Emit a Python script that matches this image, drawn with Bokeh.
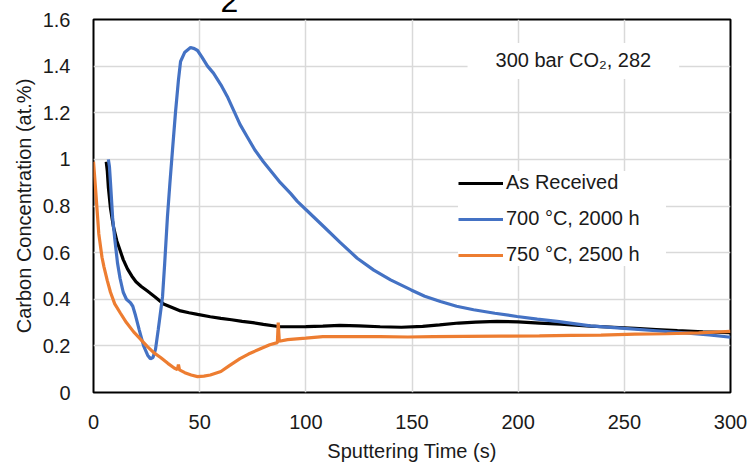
from bokeh.plotting import figure
from bokeh.models import (ColumnDataSource, Range1d, FixedTicker, Legend, LegendItem, Label)
from bokeh.embed import file_html
from bokeh.resources import INLINE

# ---------------- data ----------------
x_ticks = [0, 50, 100, 150, 200, 250, 300]
x_tick_labels = ["0", "50", "100", "150", "200", "250", "300"]
y_ticks = [0, 0.2, 0.4, 0.6, 0.8, 1.0, 1.2, 1.4, 1.6]
y_tick_labels = ["0", "0.2", "0.4", "0.6", "0.8", "1", "1.2", "1.4", "1.6"]

series_names = ["As Received", "700 °C, 2000 h", "750 °C, 2500 h"]

black_t = [6, 6.5, 7, 8, 9.4, 11, 12.5, 14, 16, 18, 20, 22.5, 25.4, 29, 33, 37, 41, 45,
           49, 55, 60, 65, 70, 75, 80, 87, 95, 100, 108, 116, 125, 135, 145, 155, 163,
           172, 180, 190, 200, 210, 220, 234, 245, 255, 265, 275, 287, 300]
black_c = [0.99, 0.95, 0.88, 0.79, 0.71, 0.65, 0.61, 0.57, 0.53, 0.50, 0.475, 0.455,
           0.435, 0.41, 0.38, 0.365, 0.35, 0.342, 0.335, 0.325, 0.318, 0.312, 0.305,
           0.300, 0.292, 0.283, 0.282, 0.283, 0.285, 0.288, 0.286, 0.282, 0.280, 0.284,
           0.290, 0.298, 0.302, 0.305, 0.303, 0.298, 0.293, 0.285, 0.280, 0.275, 0.270,
           0.265, 0.260, 0.257]

blue_t = [7, 7.5, 8, 9, 10, 11.3, 12.5, 14, 15.5, 17.4, 18.5, 19.8, 21.5, 23.6, 25.5,
          26.8, 28, 29.2, 30.5, 32.5, 33.5, 34.8, 36, 37.2, 38.6, 40, 41, 43, 45.7, 47.5,
          49, 51, 53.7, 56.5, 60, 63, 66, 69, 72.5, 76, 80, 84, 88, 92.8, 96, 100, 108.5,
          116, 124.2, 132, 139.9, 149.6, 156, 163.4, 171, 179, 189, 199.5, 209, 218.4,
          234, 250, 265, 280, 290, 300]
blue_c = [1.00, 0.97, 0.90, 0.75, 0.66, 0.556, 0.49, 0.43, 0.40, 0.385, 0.37, 0.33, 0.27,
          0.20, 0.16, 0.145, 0.15, 0.185, 0.27, 0.41, 0.55, 0.75, 0.90, 1.04, 1.20, 1.34,
          1.42, 1.46, 1.48, 1.475, 1.467, 1.44, 1.40, 1.37, 1.32, 1.27, 1.21, 1.15, 1.095,
          1.04, 0.99, 0.945, 0.90, 0.854, 0.82, 0.785, 0.711, 0.645, 0.576, 0.525, 0.483,
          0.44, 0.413, 0.39, 0.37, 0.355, 0.34, 0.326, 0.315, 0.305, 0.286, 0.275, 0.265,
          0.255, 0.247, 0.237]

orange_t = [0, 0.5, 1, 2.5, 4, 4.9, 6.5, 8, 10, 12.7, 15.5, 18.9, 22, 25.4, 28.5, 31.6,
            35, 38, 39.5, 40, 40.5, 43, 46, 49, 52, 55, 60, 64, 69, 73, 78.6, 83, 86.6,
            87, 87.5, 91.4, 100, 108, 120, 135, 148, 160, 175, 192, 210, 225, 239, 255,
            270, 285, 300]
orange_c = [0.99, 0.93, 0.87, 0.68, 0.58, 0.54, 0.48, 0.43, 0.38, 0.34, 0.30, 0.26, 0.23,
            0.197, 0.17, 0.15, 0.125, 0.105, 0.098, 0.12, 0.097, 0.085, 0.075, 0.068,
            0.070, 0.075, 0.090, 0.115, 0.145, 0.165, 0.188, 0.205, 0.214, 0.30, 0.22,
            0.227, 0.233, 0.240, 0.240, 0.240, 0.238, 0.240, 0.241, 0.242, 0.243, 0.245,
            0.246, 0.250, 0.252, 0.256, 0.262]

annotation_text = "300 bar CO\u2082, 282"
stray_text = "2"

# ---------------- figure ----------------
FONT = "Liberation Sans"

p = figure(width=748, height=464, output_backend="svg", toolbar_location=None,
           x_range=Range1d(0, 300), y_range=Range1d(0, 1.6),
           min_border_left=93, min_border_right=18, min_border_top=19, min_border_bottom=71,
           x_axis_label="Sputtering Time (s)", y_axis_label="Carbon Concentration (at.%)")
p.background_fill_color = "white"
p.border_fill_color = "white"
p.outline_line_color = "black"
p.outline_line_width = 2

p.xaxis.ticker = FixedTicker(ticks=x_ticks)
p.yaxis.ticker = FixedTicker(ticks=y_ticks)
p.xaxis.major_label_overrides = {t: s for t, s in zip(x_ticks, x_tick_labels)}
p.yaxis.major_label_overrides = {t: s for t, s in zip(y_ticks, y_tick_labels)}

for ax in (p.xaxis, p.yaxis):
    ax.axis_line_color = None
    ax.major_tick_line_color = None
    ax.minor_tick_line_color = None
    ax.major_label_text_font = FONT
    ax.major_label_text_font_size = "20px"
    ax.major_label_text_color = "#1a1a1a"
    ax.axis_label_text_font = FONT
    ax.axis_label_text_font_size = "20px"
    ax.axis_label_text_font_style = "normal"
    ax.axis_label_text_color = "#1a1a1a"

p.xaxis.major_label_standoff = 16
p.yaxis.major_label_standoff = 17
p.xaxis.axis_label_standoff = 8
p.yaxis.axis_label_standoff = 5

p.xgrid.ticker = FixedTicker(ticks=x_ticks)
p.ygrid.ticker = FixedTicker(ticks=y_ticks)
for g in (p.xgrid, p.ygrid):
    g.grid_line_color = "#d9d9d9"
    g.grid_line_width = 1.5

src_black = ColumnDataSource(dict(t=black_t, c=black_c))
src_blue = ColumnDataSource(dict(t=blue_t, c=blue_c))
src_orange = ColumnDataSource(dict(t=orange_t, c=orange_c))

r_black = p.line("t", "c", source=src_black, line_color="black", line_width=3.2)
r_blue = p.line("t", "c", source=src_blue, line_color="#4472C4", line_width=3.2)
r_orange = p.line("t", "c", source=src_orange, line_color="#ED7D31", line_width=3.2)

legend = Legend(items=[LegendItem(label=series_names[0], renderers=[r_black]),
                       LegendItem(label=series_names[1], renderers=[r_blue]),
                       LegendItem(label=series_names[2], renderers=[r_orange])],
                location=(365, 126))
legend.background_fill_color = "white"
legend.background_fill_alpha = 1
legend.border_line_color = None
legend.label_text_font = FONT
legend.label_text_font_size = "20px"
legend.label_text_color = "#1a1a1a"
legend.glyph_width = 45
legend.glyph_height = 22
legend.label_height = 22
legend.label_width = 160
legend.label_standoff = 3
legend.spacing = 13
legend.padding = 9
legend.margin = 0
p.add_layout(legend, "center")

ann = Label(x=226, y=1.422, text=annotation_text, text_align="center",
            text_baseline="alphabetic", text_font=FONT, text_font_size="20px",
            text_color="#1a1a1a", background_fill_color="white",
            padding=dict(left=28, right=28, top=6, bottom=8))
p.add_layout(ann)

# stray cut-off glyph at the top edge; hosted in the (narrow) right side panel so
# that it is not clipped to the plot frame
stray = Label(x=59.8, y=1.681, text=stray_text, text_align="left",
              text_baseline="alphabetic", text_font=FONT, text_font_size="32px",
              text_color="black")
p.add_layout(stray, "right")

open("out.html", "w").write(file_html(p, INLINE))
